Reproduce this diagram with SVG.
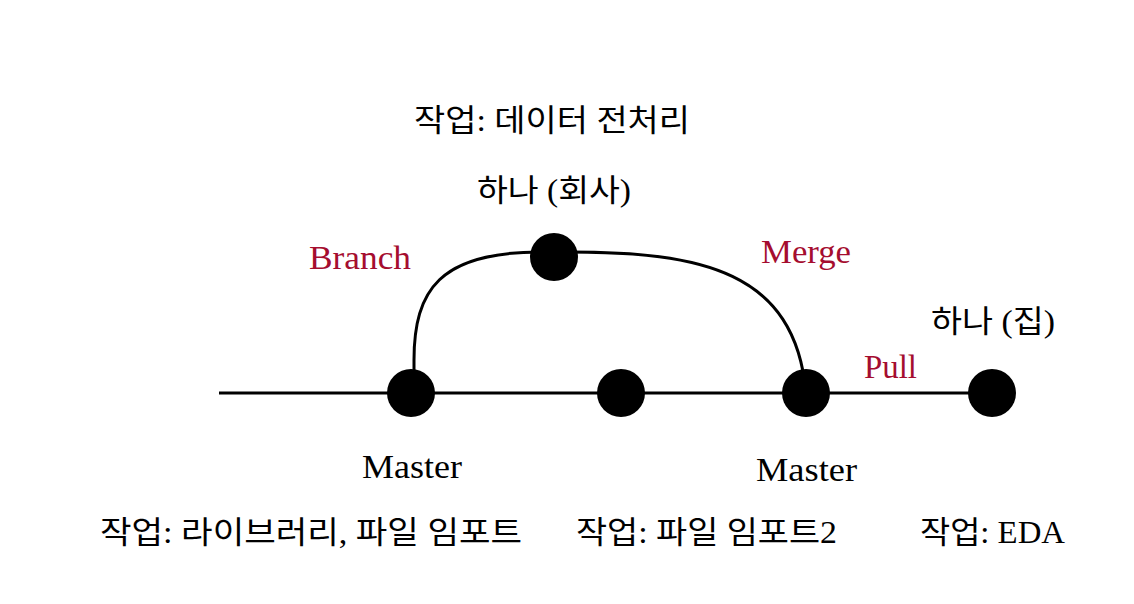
<svg xmlns="http://www.w3.org/2000/svg" width="1134" height="604" viewBox="0 0 1134 604">
<style>
.t{font-family:"Liberation Serif","Noto Sans CJK KR",serif;font-size:31px;fill:#000;}
.m{font-family:"Liberation Serif","Noto Sans CJK KR",serif;font-size:33px;fill:#000;}
.r{font-family:"Liberation Serif","Noto Sans CJK KR",serif;font-size:33px;fill:#a50d2f;}
.line{fill:none;stroke:#000;stroke-width:3;}
.node{fill:#000;}
</style>
<rect width="1134" height="604" fill="#fff"/>
<g id="connectors">
<path class="line" d="M219 393 H992"/>
<path class="line" d="M414 393 V360 C414 290 440 252 540 252"/>
<path class="line" d="M568 252 C700 252 795 270 806 393"/>
</g>
<g id="n1"><circle class="node" cx="411" cy="393" r="24"/></g>
<g id="n2"><circle class="node" cx="621" cy="393" r="24"/></g>
<g id="n3"><circle class="node" cx="806" cy="393" r="24"/></g>
<g id="n4"><circle class="node" cx="992" cy="393" r="24"/></g>
<g id="n5"><circle class="node" cx="554" cy="257" r="24"/></g>
<g id="labels">
<text class="t" x="414" y="131" textLength="276" lengthAdjust="spacingAndGlyphs">작업: 데이터 전처리</text>
<text class="t" x="477" y="201" textLength="154" lengthAdjust="spacingAndGlyphs">하나 (회사)</text>
<text class="r" x="309" y="269" textLength="102" lengthAdjust="spacingAndGlyphs">Branch</text>
<text class="r" x="761" y="263" textLength="90" lengthAdjust="spacingAndGlyphs">Merge</text>
<text class="t" x="931" y="332" textLength="124" lengthAdjust="spacingAndGlyphs">하나 (집)</text>
<text class="r" x="864" y="378" textLength="53" lengthAdjust="spacingAndGlyphs">Pull</text>
<text class="m" x="362" y="478" textLength="100" lengthAdjust="spacingAndGlyphs">Master</text>
<text class="m" x="756" y="481" textLength="101" lengthAdjust="spacingAndGlyphs">Master</text>
<text class="t" x="100" y="543" textLength="422" lengthAdjust="spacingAndGlyphs">작업: 라이브러리, 파일 임포트</text>
<text class="t" x="576" y="543" textLength="261" lengthAdjust="spacingAndGlyphs">작업: 파일 임포트2</text>
<text class="t" x="920" y="543" textLength="145" lengthAdjust="spacingAndGlyphs">작업: EDA</text>
</g>
</svg>
